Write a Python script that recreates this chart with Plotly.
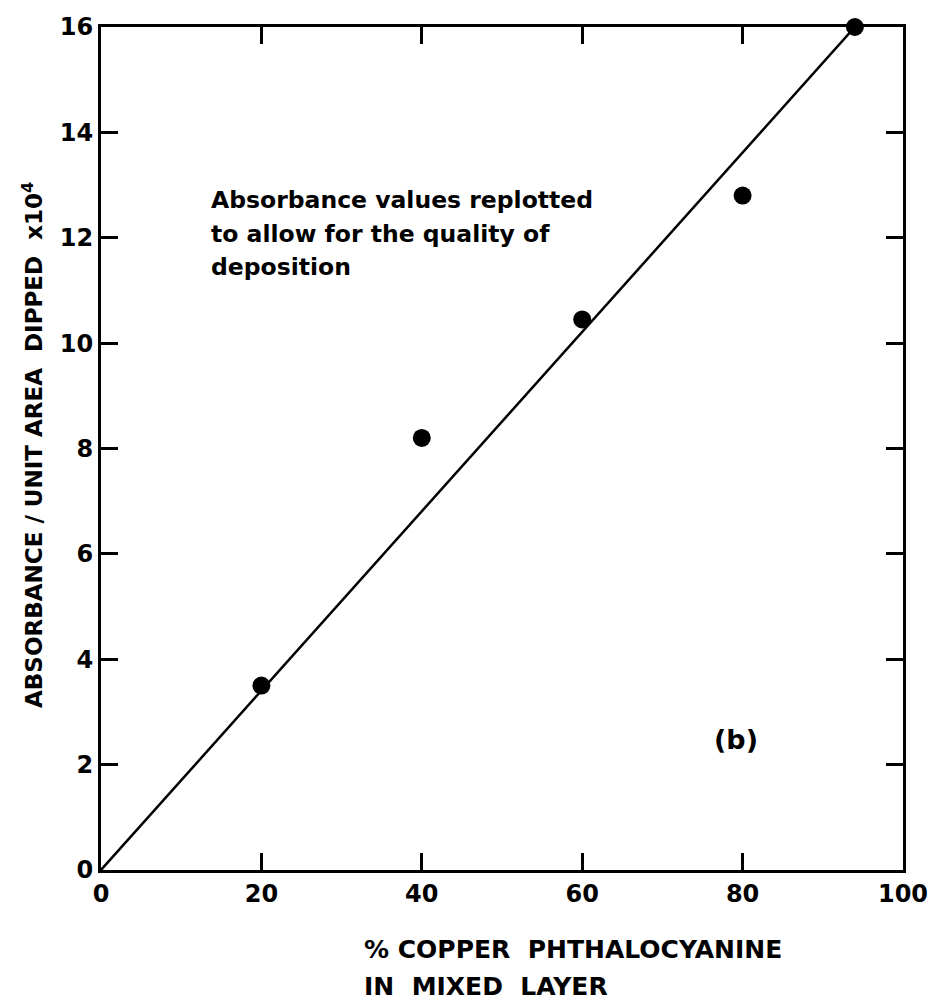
import plotly.graph_objects as go

# Measured points: % copper phthalocyanine vs absorbance per unit area (x10^4)
pct_cupc = [20, 40, 60, 80, 94]
absorbance = [3.5, 8.2, 10.45, 12.8, 16.0]

# Straight-line fit through the origin
fit_x = [0, 94]
fit_y = [0, 16]

x_ticks = [0, 20, 40, 60, 80, 100]
y_ticks = [0, 2, 4, 6, 8, 10, 12, 14, 16]

note_lines = ["Absorbance values replotted", "to allow for the quality of", "deposition"]
x_title_lines = ["% COPPER  PHTHALOCYANINE", "IN  MIXED  LAYER"]

FONT = "DejaVu Sans"

fig = go.Figure()
fig.add_trace(go.Scatter(x=fit_x, y=fit_y, mode="lines",
                         line=dict(color="black", width=2.5),
                         showlegend=False, hoverinfo="skip", cliponaxis=False))
fig.add_trace(go.Scatter(x=pct_cupc, y=absorbance, mode="markers",
                         marker=dict(color="black", size=18),
                         showlegend=False, cliponaxis=False))

axis_common = dict(showgrid=False, zeroline=False, showline=True, automargin=False,
                   linecolor="black", linewidth=3, mirror="allticks",
                   ticks="inside", ticklen=17, tickwidth=2.5, tickcolor="black",
                   tickfont=dict(family=FONT, size=24, color="black", weight="bold"))

fig.update_xaxes(range=[0, 100], tickvals=x_ticks, ticktext=[str(v) for v in x_ticks],
                 **axis_common)
fig.update_yaxes(range=[0, 16], tickvals=y_ticks, ticktext=[str(v) for v in y_ticks],
                 **axis_common)

# Note inside the plot, one annotation per line for wider line spacing
for i, line in enumerate(note_lines):
    fig.add_annotation(x=0.135, y=0.795 - i * 0.040, xref="paper", yref="paper",
                       xanchor="left", yanchor="middle", showarrow=False, text=line,
                       font=dict(family=FONT, size=23.5, color="black", weight="bold"))

fig.add_annotation(x=79.2, y=2.48, xref="x", yref="y", showarrow=False,
                   text="(b)", font=dict(family=FONT, size=27, color="black", weight="bold"))

fig.add_annotation(x=-0.085, y=0.504, xref="paper", yref="paper", showarrow=False,
                   xanchor="center", yanchor="middle", textangle=-90,
                   text="ABSORBANCE / UNIT AREA  DIPPED  x10<sup>4</sup>",
                   font=dict(family=FONT, size=23, color="black", weight="bold"))

for i, line in enumerate(x_title_lines):
    fig.add_annotation(x=0.326, y=-0.094 - i * 0.044, xref="paper", yref="paper",
                       xanchor="left", yanchor="middle", showarrow=False, text=line,
                       font=dict(family=FONT, size=25, color="black", weight="bold"))

fig.update_layout(width=932, height=1001,
                  margin=dict(l=101, r=29, t=27, b=131, autoexpand=False),
                  plot_bgcolor="white", paper_bgcolor="white")

fig.write_html("out.html")
